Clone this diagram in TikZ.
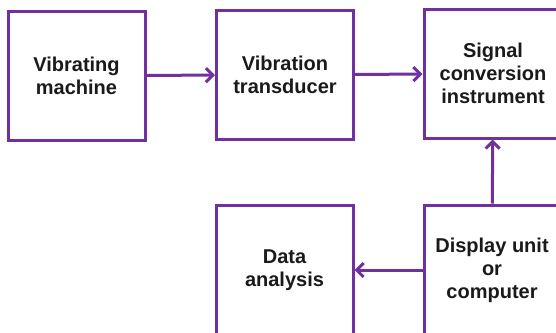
\documentclass[tikz,border=0pt]{standalone}
\usepackage{fontspec}
\setmainfont{Liberation Sans}
\usetikzlibrary{arrows.meta}

\definecolor{boxpurple}{RGB}{112,48,160}
\definecolor{labelgray}{RGB}{26,26,26}

\tikzset{
  block/.style={draw=boxpurple, line width=3pt, fill=white,
    minimum width=137pt, minimum height=129pt, inner sep=2pt,
    align=center, text=labelgray,
    font=\fontsize{20}{23}\selectfont\bfseries},
  flow/.style={draw=boxpurple, line width=3pt,
    -{Straight Barb[length=7pt,width=14pt,line width=3pt]}}
}

\begin{document}
\begin{tikzpicture}[x=1pt,y=-1pt]
  \useasboundingbox (0,0) rectangle (556,332);
  \begin{scope}
    \clip (0,0) rectangle (556,332);
    % top row
    \node[block] (machine) at (76.5,75.5) {Vibrating\\machine};
    \node[block] (transducer) at (285,75) {Vibration\\transducer};
    \node[block, minimum width=138pt] (conversion) at (493,73.5)
      {Signal\\conversion\\instrument};
    % bottom row
    \node[block, minimum height=130pt] (analysis) at (284.5,270)
      {Data\\analysis};
    \node[block, minimum width=136pt, minimum height=130pt] (display)
      at (492,270) {Display unit\\or\\computer};

    \draw[flow] (machine) -- (transducer);
    \draw[flow] (transducer) -- (conversion);
    \draw[flow] (display) -- (conversion);
    \draw[flow] (display) -- (analysis);
  \end{scope}
\end{tikzpicture}
\end{document}
